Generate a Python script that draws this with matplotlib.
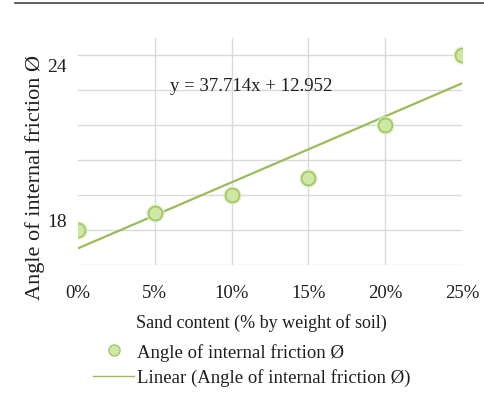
import numpy as np
import matplotlib
matplotlib.use("Agg")
import matplotlib.pyplot as plt
from matplotlib.lines import Line2D

# Data
sand_content = [0.00, 0.05, 0.10, 0.15, 0.20, 0.25]
x_labels = ["0%", "5%", "10%", "15%", "20%", "25%"]
friction_angle = [14, 15, 16, 17, 20, 24]
series_name = "Angle of internal friction Ø"
trend_name = "Linear (Angle of internal friction Ø)"
equation_text = "y = 37.714x + 12.952"
y_grid = [12, 14, 16, 18, 20, 22, 24]
y_label_text = ["24", "18"]
y_label_pos = [23.33, 14.46]

plt.rcParams['font.family'] = ['Liberation Serif', 'DejaVu Serif']

W, H = 484, 406
fig = plt.figure(figsize=(W / 100, H / 100), dpi=100)
ax = fig.add_axes([78 / W, 1 - 266 / H, 384 / W, (266 - 38.5) / H])

green_line = "#9bbb59"
marker_fill = "#cce8a4"
marker_edge = "#a3c763"
grid_col = "#d9d9d9"
txt_col = "#1e1e1e"

# trendline
coef = np.polyfit(sand_content, friction_angle, 1)
xs = np.array([sand_content[0], sand_content[-1]])
ax.plot(xs, np.polyval(coef, xs), color=green_line, lw=1.6, zorder=3)

# glow + markers
ax.plot(sand_content, friction_angle, 'o', ms=13.5, color="#e2f0cf", alpha=0.7,
        mec='none', zorder=4)
ax.plot(sand_content, friction_angle, 'o', ms=10, mfc=marker_fill,
        mec=marker_edge, mew=1.3, zorder=5)

ax.set_xlim(0, 0.25)
ax.set_ylim(12, 25)
ax.set_xticks(sand_content)
ax.set_xticklabels(x_labels, fontsize=13.5, color=txt_col)
ax.set_yticks(y_grid)
ax.set_yticklabels([])
ax.tick_params(axis='both', length=0)
ax.tick_params(axis='x', pad=14)
ax.grid(True, color=grid_col, lw=1.0)
ax.set_axisbelow(True)
gl = ax.xaxis.get_gridlines()
gl[0].set_visible(False)
gl[-1].set_visible(False)
for s in ax.spines.values():
    s.set_visible(False)

for lab, pos in zip(y_label_text, y_label_pos):
    ax.text(-0.028, pos, lab, transform=ax.get_yaxis_transform(),
            ha='right', va='center', fontsize=14, color=txt_col)

ax.text(0.0599, 22.23, equation_text, fontsize=13.5, color=txt_col,
        ha='left', va='center')

fig.text(35 / W, 1 - 178 / H, series_name, rotation=90, ha='center',
         va='center', fontsize=16, color=txt_col)
fig.text(261.5 / W, 1 - 323 / H, "Sand content (% by weight of soil)",
         ha='center', va='center', fontsize=13, color=txt_col)

handles = [
    Line2D([], [], ls='none', marker='o', ms=8, mfc=marker_fill,
           mec=marker_edge, mew=1.0),
    Line2D([], [], color=green_line, lw=1.0),
]
fig.legend(handles, [series_name, trend_name], loc='upper left',
           bbox_to_anchor=(93 / W, 1 - 344 / H), frameon=False, fontsize=13.5,
           handlelength=2.2, handletextpad=0.15, labelspacing=0.4,
           borderpad=0, borderaxespad=0, labelcolor=txt_col)

# top border line
fig.add_artist(Line2D([15 / W, 1.0], [1 - 3.7 / H, 1 - 3.7 / H],
                      transform=fig.transFigure, color="#444444", lw=1.2))

fig.savefig("out.png", dpi=100)
